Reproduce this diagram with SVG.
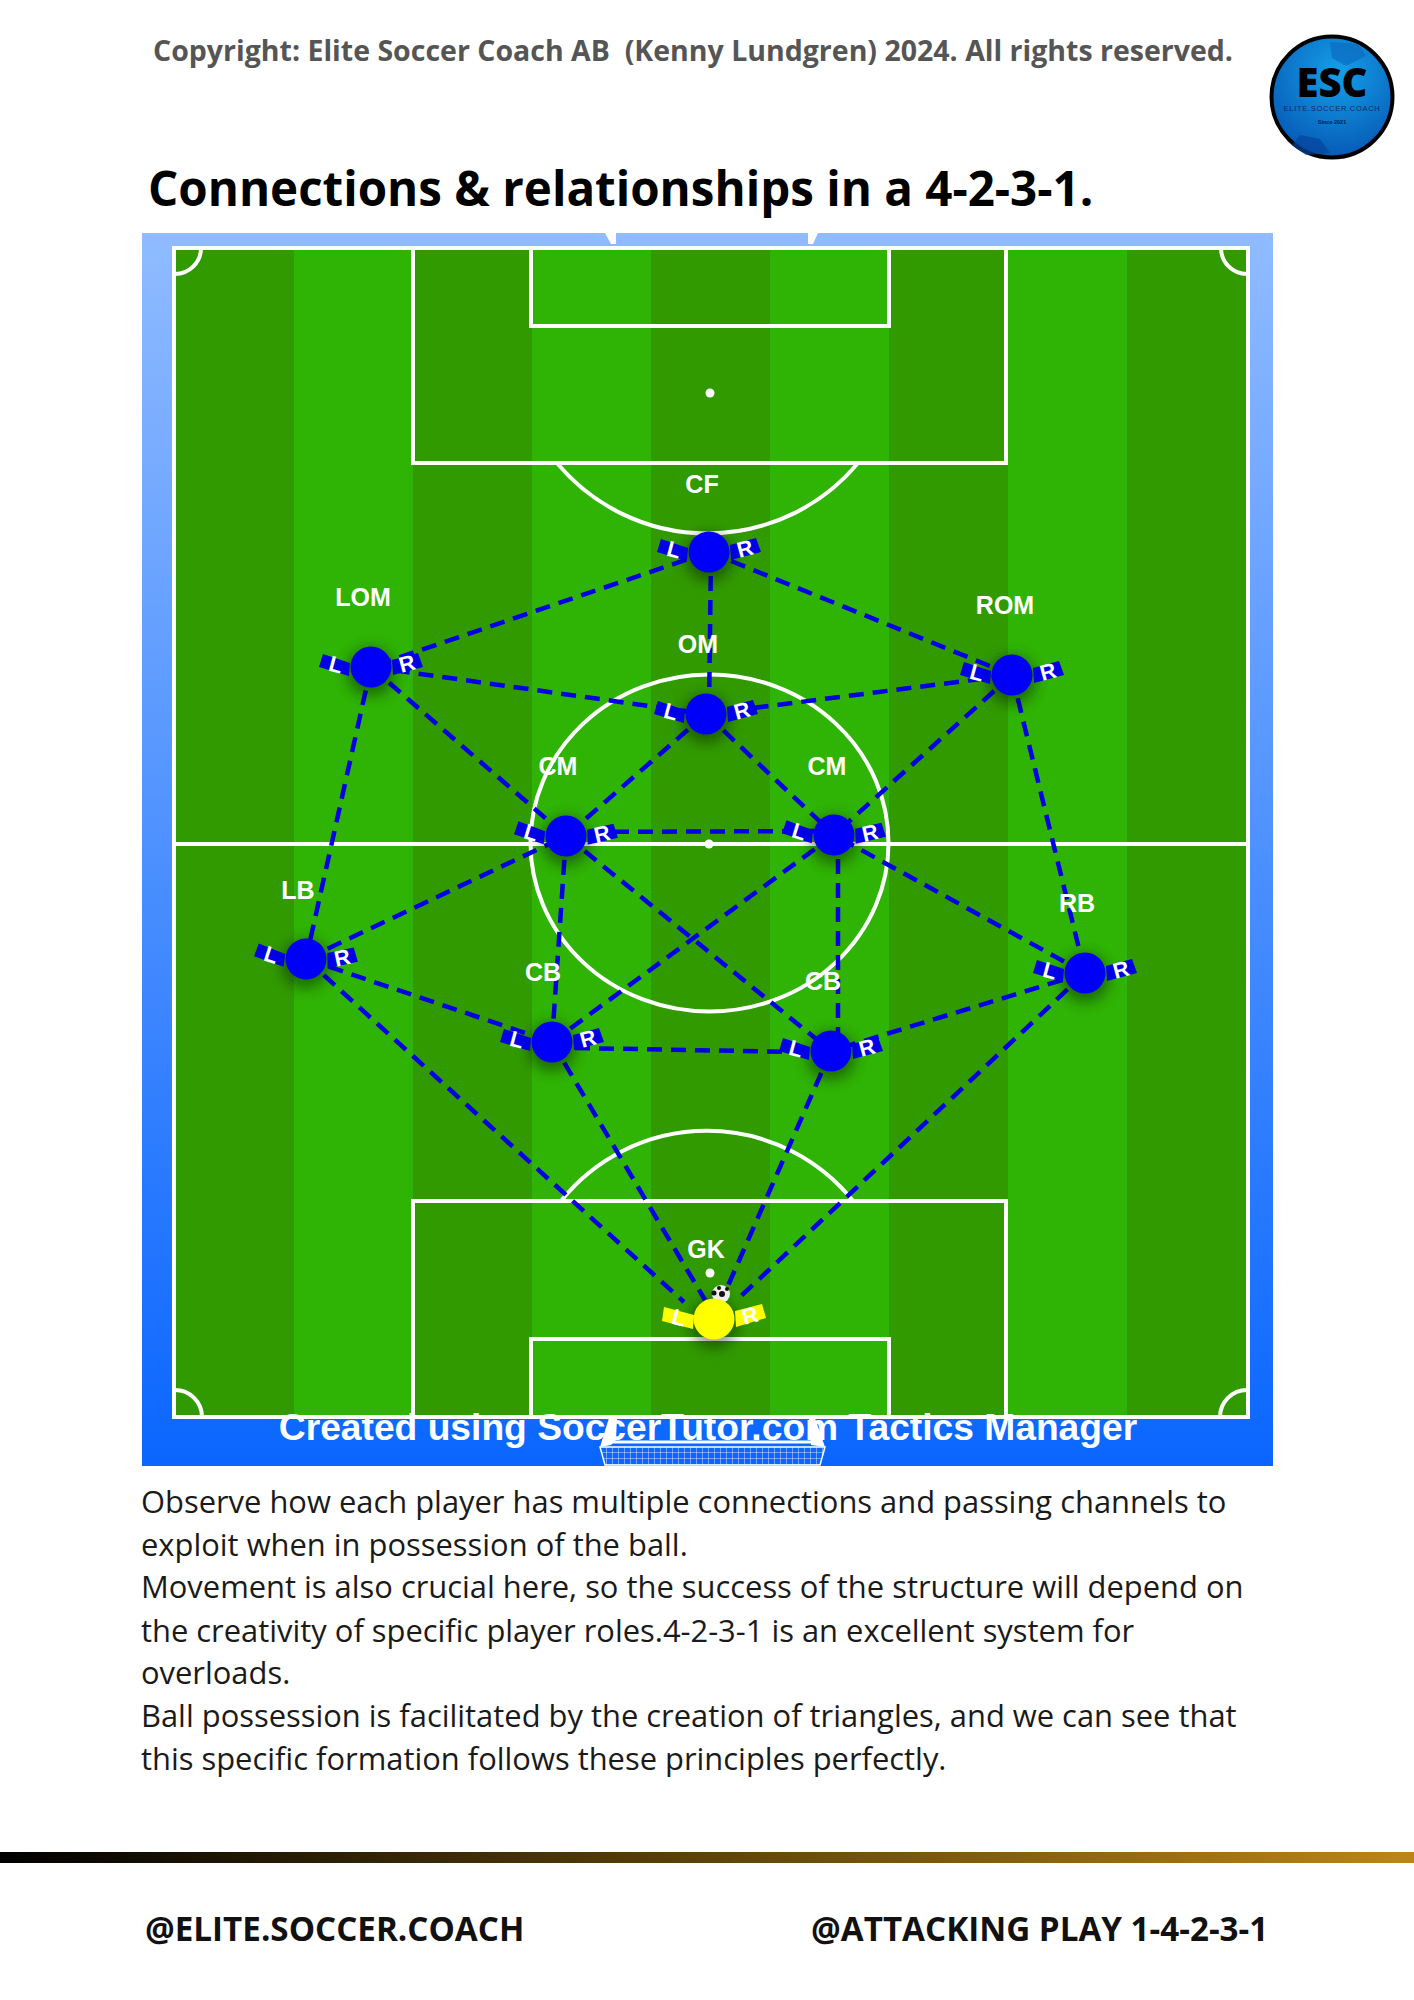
<svg xmlns="http://www.w3.org/2000/svg" width="1414" height="2000" viewBox="0 0 1414 2000">
<style>
.os{font-family:"Open Sans","Liberation Sans",sans-serif}
.hd{font-size:28.5px;font-weight:700;fill:#555}
.tt{font-size:47.5px;font-weight:700;fill:#000}
.bd{font-size:30.9px;fill:#1a1a1a}
.ft{font-size:33.2px;font-weight:700;fill:#111}
.ln{fill:none;stroke:#fff;stroke-width:4}
.st{fill:#319a00}
.lb{font-family:"Liberation Sans",Arial,sans-serif;font-weight:700;font-size:25px;fill:#fff;text-anchor:middle}
.tg{font-family:"Liberation Sans",Arial,sans-serif;font-weight:700;font-size:22px;fill:#fff;text-anchor:middle}
.cn line{stroke:#0000e6;stroke-width:4.5;stroke-dasharray:15 9;fill:none}
.arm{fill:#0000e6}
.garm{fill:#ffff00}
</style>
<defs>
<linearGradient id="sky" x1="0" y1="0" x2="0" y2="1"><stop offset="0" stop-color="#90bbff"/><stop offset="1" stop-color="#0a66ff"/></linearGradient>
<linearGradient id="bar" x1="0" y1="0" x2="1" y2="0"><stop offset="0" stop-color="#000"/><stop offset="1" stop-color="#bb8614"/></linearGradient>
<radialGradient id="ballg" cx=".55" cy=".3" r=".8"><stop offset="0" stop-color="#14a0e8"/><stop offset="1" stop-color="#0550b0"/></radialGradient>
<filter id="blur" x="-60%" y="-60%" width="220%" height="220%"><feGaussianBlur stdDeviation="7"/></filter>
<pattern id="net" width="6" height="6" patternUnits="userSpaceOnUse"><path d="M6 0H0V6" fill="none" stroke="#fff" stroke-width=".8"/></pattern>
<g id="blue">
<circle cx="0" cy="5" r="24" fill="#000" opacity=".4" filter="url(#blur)"/>
<polygon class="arm" points="-48,-13 -21,-4 -22,9 -52,0"/>
<polygon class="arm" points="21,-7 47,-14 52,0 22,8"/>
<text class="tg" transform="translate(-37,5) rotate(15)">L</text>
<text class="tg" transform="translate(38,4) rotate(-15)">R</text>
<circle r="20.5" fill="#0000fa"/>
</g>
</defs>
<rect width="1414" height="2000" fill="#fff"/>
<text class="os hd" x="153" y="61" xml:space="preserve">Copyright: Elite Soccer Coach AB  (Kenny Lundgren) 2024. All rights reserved.</text>
<g id="logo">
<circle cx="1332" cy="97" r="60.5" fill="url(#ballg)" stroke="#000" stroke-width="4"/>
<path d="M1330 42l28 2 8 12-20 10-14-8z" fill="#0a6cc0" opacity=".7"/>
<path d="M1300 135l20 4 10 14-24 2-14-10z" fill="#04459c" opacity=".7"/>
<text class="os" x="1332" y="97" font-size="40" font-weight="800" text-anchor="middle" fill="#000">ESC</text>
<text font-family="Liberation Sans,sans-serif" x="1332" y="111" font-size="7.5" letter-spacing=".7" text-anchor="middle" fill="#0a2a66">ELITE.SOCCER.COACH</text>
<text font-family="Liberation Sans,sans-serif" x="1332" y="124" font-size="5.5" font-weight="700" text-anchor="middle" fill="#001a50">Since 2021</text>
</g>
<text class="os tt" x="148" y="206">Connections &amp; relationships in a 4-2-3-1.</text>
<g id="pitch">
<rect x="142" y="233" width="1131" height="1233" fill="url(#sky)"/>
<rect x="175" y="249" width="1072" height="1168" fill="#2fb304"/>
<rect class="st" x="175" y="249" width="119" height="1168"/>
<rect class="st" x="413" y="249" width="119" height="1168"/>
<rect class="st" x="651" y="249" width="119" height="1168"/>
<rect class="st" x="889" y="249" width="119" height="1168"/>
<rect class="st" x="1127" y="249" width="120" height="1168"/>
<text x="708" y="1440" font-family="Liberation Sans,Arial,sans-serif" font-weight="700" font-size="37.2" fill="#fff" text-anchor="middle">Created using SoccerTutor.com Tactics Manager</text>
<rect class="ln" x="174" y="248" width="1074" height="1169"/>
<line class="ln" x1="174" y1="844" x2="1248" y2="844"/>
<ellipse class="ln" cx="709.5" cy="843" rx="179" ry="168.5"/>
<rect class="ln" x="413" y="248" width="593" height="215"/>
<rect class="ln" x="531" y="248" width="358" height="78"/>
<rect class="ln" x="413" y="1201" width="593" height="216"/>
<rect class="ln" x="531" y="1339" width="358" height="78"/>
<path class="ln" d="M557 463A196 196 0 0 0 858 463"/>
<path class="ln" d="M561 1201A187 187 0 0 1 853 1201"/>
<circle cx="710" cy="393" r="4.5" fill="#fff"/>
<circle cx="709" cy="844" r="4.5" fill="#fff"/>
<circle cx="710" cy="1273" r="4.5" fill="#fff"/>
<path class="ln" d="M201 248A26 26 0 0 1 175 274M1221 248A26 26 0 0 0 1247 274M175 1390A27 27 0 0 1 202 1417M1247 1390A27 27 0 0 0 1220 1417"/>
<polygon points="605,233 616,233 616,244 611,244" fill="#fff"/>
<polygon points="808,233 818,233 813,244 808,244" fill="#fff"/>
<g id="goal">
<polygon points="600,1447 825,1447 820,1465 605,1465" fill="url(#net)" stroke="#fff" stroke-width="1.5"/>
<polygon points="609,1418 617,1418 616,1440 611,1445 600,1447" fill="#fff"/>
<polygon points="809,1418 815,1418 825,1447 811,1445" fill="#fff"/>
<line x1="612" y1="1442" x2="812" y2="1442" stroke="#fff" stroke-width="3"/>
</g>
</g>
<g id="connectors" class="cn">
<line x1="709" y1="552" x2="371" y2="667"/>
<line x1="709" y1="552" x2="1012" y2="675"/>
<line x1="711" y1="552" x2="709" y2="714"/>
<line x1="371" y1="667" x2="706" y2="714"/>
<line x1="706" y1="714" x2="1012" y2="675"/>
<line x1="371" y1="667" x2="566" y2="836"/>
<line x1="1012" y1="675" x2="834" y2="835"/>
<line x1="706" y1="714" x2="566" y2="836"/>
<line x1="706" y1="714" x2="834" y2="835"/>
<line x1="566" y1="832" x2="834" y2="831"/>
<line x1="371" y1="667" x2="306" y2="959"/>
<line x1="1012" y1="675" x2="1085" y2="973"/>
<line x1="306" y1="959" x2="566" y2="836"/>
<line x1="1085" y1="973" x2="834" y2="835"/>
<line x1="566" y1="836" x2="552" y2="1042"/>
<line x1="838" y1="835" x2="838" y2="1051"/>
<line x1="566" y1="836" x2="831" y2="1051"/>
<line x1="834" y1="835" x2="552" y2="1042"/>
<line x1="306" y1="959" x2="552" y2="1042"/>
<line x1="1085" y1="973" x2="831" y2="1051"/>
<line x1="575" y1="1048" x2="800" y2="1052"/>
<line x1="306" y1="959" x2="684" y2="1302"/>
<line x1="552" y1="1042" x2="705" y2="1300"/>
<line x1="831" y1="1051" x2="727" y2="1288"/>
<line x1="1085" y1="973" x2="739" y2="1298"/>
</g>
<g id="CF"><use href="#blue" transform="translate(709,552)"/><text class="lb" x="702" y="493">CF</text></g>
<g id="LOM"><use href="#blue" transform="translate(371,667)"/><text class="lb" x="363" y="606">LOM</text></g>
<g id="ROM"><use href="#blue" transform="translate(1012,675)"/><text class="lb" x="1005" y="614">ROM</text></g>
<g id="OM"><use href="#blue" transform="translate(706,714)"/><text class="lb" x="698" y="653">OM</text></g>
<g id="CML"><use href="#blue" transform="translate(566,836) rotate(2)"/><text class="lb" x="558" y="775">CM</text></g>
<g id="CMR"><use href="#blue" transform="translate(834,835) rotate(2)"/><text class="lb" x="827" y="775">CM</text></g>
<g id="LB"><use href="#blue" transform="translate(306,959) rotate(3)"/><text class="lb" x="298" y="899">LB</text></g>
<g id="RB"><use href="#blue" transform="translate(1085,973)"/><text class="lb" x="1077" y="912">RB</text></g>
<g id="CBL"><use href="#blue" transform="translate(552,1042)"/><text class="lb" x="543" y="981">CB</text></g>
<g id="CBR"><use href="#blue" transform="translate(831,1051)"/><text class="lb" x="823" y="990">CB</text></g>
<g id="GK">
<circle cx="714" cy="1324" r="24" fill="#000" opacity=".4" filter="url(#blur)"/>
<circle cx="721" cy="1294" r="9" fill="#eee"/><circle cx="722" cy="1294" r="3" fill="#111"/><circle cx="714" cy="1293" r="2.5" fill="#111"/><circle cx="727" cy="1289" r="2" fill="#111"/><circle cx="719" cy="1288" r="2" fill="#111"/>
<polygon class="garm" points="664,1307 694,1315 693,1329 662,1321"/>
<polygon class="garm" points="735,1311 762,1304 766,1318 736,1327"/>
<text class="tg" transform="translate(677,1325) rotate(15)">L</text>
<text class="tg" transform="translate(752,1323) rotate(-15)">R</text>
<circle cx="714" cy="1319" r="20.5" fill="#ffff00"/>
<text class="lb" x="706" y="1258">GK</text>
</g>
<g id="copy">
<text class="os bd" x="141" y="1513">Observe how each player has multiple connections and passing channels to</text>
<text class="os bd" x="141" y="1556">exploit when in possession of the ball.</text>
<text class="os bd" x="141" y="1598">Movement is also crucial here, so the success of the structure will depend on</text>
<text class="os bd" x="141" y="1642">the creativity of specific player roles.4-2-3-1 is an excellent system for</text>
<text class="os bd" x="141" y="1684">overloads.</text>
<text class="os bd" x="141" y="1727">Ball possession is facilitated by the creation of triangles, and we can see that</text>
<text class="os bd" x="141" y="1770">this specific formation follows these principles perfectly.</text>
</g>
<rect id="rule" x="0" y="1852" width="1414" height="11" fill="url(#bar)"/>
<text class="os ft" x="145" y="1941">@ELITE.SOCCER.COACH</text>
<text class="os ft" x="811" y="1941">@ATTACKING PLAY 1-4-2-3-1</text>
</svg>
